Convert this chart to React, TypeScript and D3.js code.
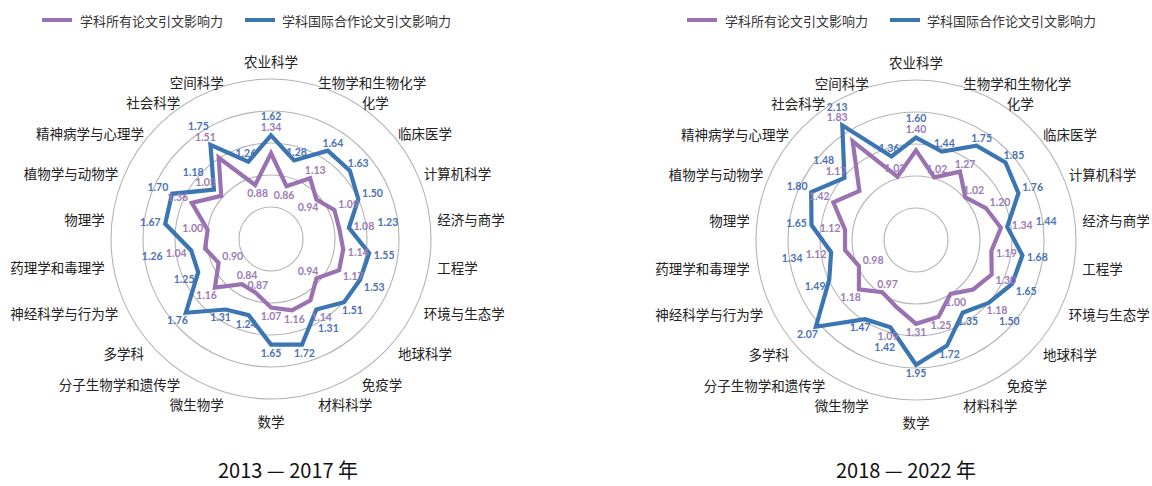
import React from 'react';
import * as d3 from 'd3';

// categories clockwise from the top
const categories = [
  '农业科学', '生物学和生物化学', '化学', '临床医学', '计算机科学', '经济与商学',
  '工程学', '环境与生态学', '地球科学', '免疫学', '材料科学', '数学',
  '微生物学', '分子生物学和遗传学', '多学科', '神经科学与行为学', '药理学和毒理学',
  '物理学', '植物学与动物学', '精神病学与心理学', '社会科学', '空间科学'
];

const allImpact1317 = [1.34, 0.86, 1.13, 0.94, 1.09, 1.08, 1.14, 1.17, 0.94, 1.14, 1.16,
  1.07, 0.87, 0.84, 1.16, 0.90, 1.04, 1.00, 1.36, 1.03, 1.51, 0.88];
const intlImpact1317 = [1.62, 1.28, 1.64, 1.63, 1.50, 1.23, 1.55, 1.53, 1.51, 1.31, 1.72,
  1.65, 1.24, 1.31, 1.76, 1.25, 1.26, 1.67, 1.70, 1.18, 1.75, 1.26];

const allImpact1822 = [1.40, 1.02, 1.27, 1.02, 1.20, 1.34, 1.19, 1.30, 1.18, 1.00, 1.25,
  1.31, 1.09, 0.97, 1.18, 0.98, 1.12, 1.12, 1.42, 1.17, 1.83, 1.03];
const intlImpact1822 = [1.60, 1.44, 1.75, 1.85, 1.76, 1.44, 1.68, 1.65, 1.50, 1.35, 1.72,
  1.95, 1.42, 1.47, 2.07, 1.49, 1.34, 1.65, 1.80, 1.48, 2.13, 1.36];

const gridValues = [0.5, 1.0, 1.5, 2.0, 2.5];
const legendNames = ['学科所有论文引文影响力', '学科国际合作论文引文影响力'];

const PURPLE = '#9a71b1';
const BLUE = '#3b76b3';
const PURPLE_TXT = '#9b7bb7';
const BLUE_TXT = '#4a72b5';
const CJK = '"Noto Sans CJK SC", "Noto Sans", sans-serif';
const CAT_FS = 13.5;

const r = d3.scaleLinear().domain([0, 2.5]).range([0, 160]);
const step = (2 * Math.PI) / categories.length;

const at = (theta: number, rad: number) => [rad * Math.sin(theta), -rad * Math.cos(theta)];

const LW = 23, LH = 10; // rough size of a value label

// distance along an axis needed to clear a box of w x h
function clear(th: number, w: number, h: number) {
  const s = Math.abs(Math.sin(th)) || 1e-6, c = Math.abs(Math.cos(th)) || 1e-6;
  return Math.min(h / c, w / s);
}

function categoryLabels() {
  return categories.map((c, i) => {
    const th = i * step, s = Math.sin(th), co = Math.cos(th);
    const [x, y0] = at(th, Math.abs(s) < 0.1 ? 172 : 168);
    const anchor = Math.abs(s) < 0.1 ? 'middle' : (s > 0 ? 'start' : 'end');
    const y = y0 + (Math.abs(s) < 0.1 ? (co > 0 ? -6 : 10) : 4);
    const w = c.length * CAT_FS;
    const x0 = anchor === 'middle' ? x - w / 2 : anchor === 'start' ? x : x - w;
    return {text: c, x, y, anchor, box: [x0, x0 + w, y - 7, y + 7]};
  });
}

// place value labels next to the vertices, then nudge apart the ones that collide
function valueLabels(all: number[], intl: number[], cats: any[]) {
  const out: any[] = [];
  all.forEach((v, i) => {
    const th = i * step;
    const pad = clear(th, LW / 2, LH / 2) + 3.5;
    let pr: number, br: number;
    if (v < 1) {
      pr = r(v) - pad;
      br = r(intl[i]) + pad;
    } else if (intl[i] - v < 0.33) {
      // close together: stack both outside the blue line
      pr = r(intl[i]) + pad;
      br = pr + clear(th, LW, LH) + 1;
    } else {
      pr = r(v) + pad;
      br = r(intl[i]) + pad;
    }
    const [px, py] = at(th, pr);
    const [bx, by] = at(th, br);
    out.push({x: px, y: py, text: v.toFixed(2), fill: PURPLE_TXT});
    out.push({x: bx, y: by, text: intl[i].toFixed(2), fill: BLUE_TXT});
  });
  for (let k = 0; k < 40; k++) {
    for (let a = 0; a < out.length; a++) {
      const A = out[a];
      // keep clear of the category names
      cats.forEach(cl => {
        const [x0, x1, y0, y1] = cl.box;
        const ox = Math.min(A.x + LW / 2, x1) - Math.max(A.x - LW / 2, x0);
        const oy = Math.min(A.y + LH / 2, y1) - Math.max(A.y - LH / 2, y0);
        if (ox > 0 && oy > 0) {
          if (ox < oy) A.x += (A.x > (x0 + x1) / 2 ? 1 : -1) * (ox + 0.5);
          else A.y += (A.y > (y0 + y1) / 2 ? 1 : -1) * (oy + 0.5);
        }
      });
      for (let b = a + 1; b < out.length; b++) {
        const B = out[b];
        const dx = B.x - A.x, dy = B.y - A.y;
        const ox = LW - Math.abs(dx), oy = LH - Math.abs(dy);
        if (ox > 0 && oy > 0) {
          if (ox / LW < oy / LH) {
            const m = (ox / 2 + 0.2) * (dx >= 0 ? 1 : -1);
            A.x -= m; B.x += m;
          } else {
            const m = (oy / 2 + 0.2) * (dy >= 0 ? 1 : -1);
            A.y -= m; B.y += m;
          }
        }
      }
    }
  }
  return out;
}

function Radar({cx, cy, title, titleX, all, intl}) {
  const line = d3.lineRadial<number>()
    .angle((d, i) => i * step)
    .radius(d => r(d))
    .curve(d3.curveLinearClosed);

  const cats = categoryLabels();
  const labels = valueLabels(all, intl, cats);

  return (
    <g>
      <g transform={`translate(${cx},${cy})`}>
        {gridValues.map(v => (
          <circle key={v} r={r(v)} fill="none" stroke="#b4b4b4" strokeWidth={1.1}/>
        ))}
        <path d={line(intl)} fill="none" stroke={BLUE} strokeWidth={4.2}/>
        <path d={line(all)} fill="none" stroke={PURPLE} strokeWidth={4.2}/>

        {cats.map(c => (
          <text key={c.text} x={c.x} y={c.y} textAnchor={c.anchor} dominantBaseline="central"
                fontFamily={CJK} fontSize={CAT_FS} fill="#222">{c.text}</text>
        ))}

        <g fontFamily="Lato, 'Open Sans', sans-serif" fontWeight="bold" fontSize={10.5}
           textAnchor="middle" dominantBaseline="central">
          {labels.map((l, i) => (
            <text key={i} x={l.x} y={l.y} fill={l.fill}>{l.text}</text>
          ))}
        </g>
      </g>

      {/* legend */}
      <g transform={`translate(${cx - 229},20)`} fontFamily={CJK} fontSize={13} fill="#333">
        <line x1={0} x2={30} y1={0} y2={0} stroke={PURPLE} strokeWidth={4}/>
        <text x={38} y={0} dominantBaseline="central">{legendNames[0]}</text>
        <line x1={203} x2={233} y1={0} y2={0} stroke={BLUE} strokeWidth={4}/>
        <text x={240} y={0} dominantBaseline="central">{legendNames[1]}</text>
      </g>

      <text x={titleX} y={478} textAnchor="middle" fontFamily={CJK} fontSize={20} fill="#111">{title}</text>
    </g>
  );
}

export default function App() {
  return (
    <svg width={1152} height={486} style={{position: 'absolute', left: 0, top: 0, background: '#fff'}}>
      <rect width={1152} height={486} fill="#fff"/>
      <Radar cx={271} cy={239} title="2013 — 2017 年" titleX={288} all={allImpact1317} intl={intlImpact1317}/>
      <Radar cx={916} cy={240} title="2018 — 2022 年" titleX={906} all={allImpact1822} intl={intlImpact1822}/>
    </svg>
  );
}
